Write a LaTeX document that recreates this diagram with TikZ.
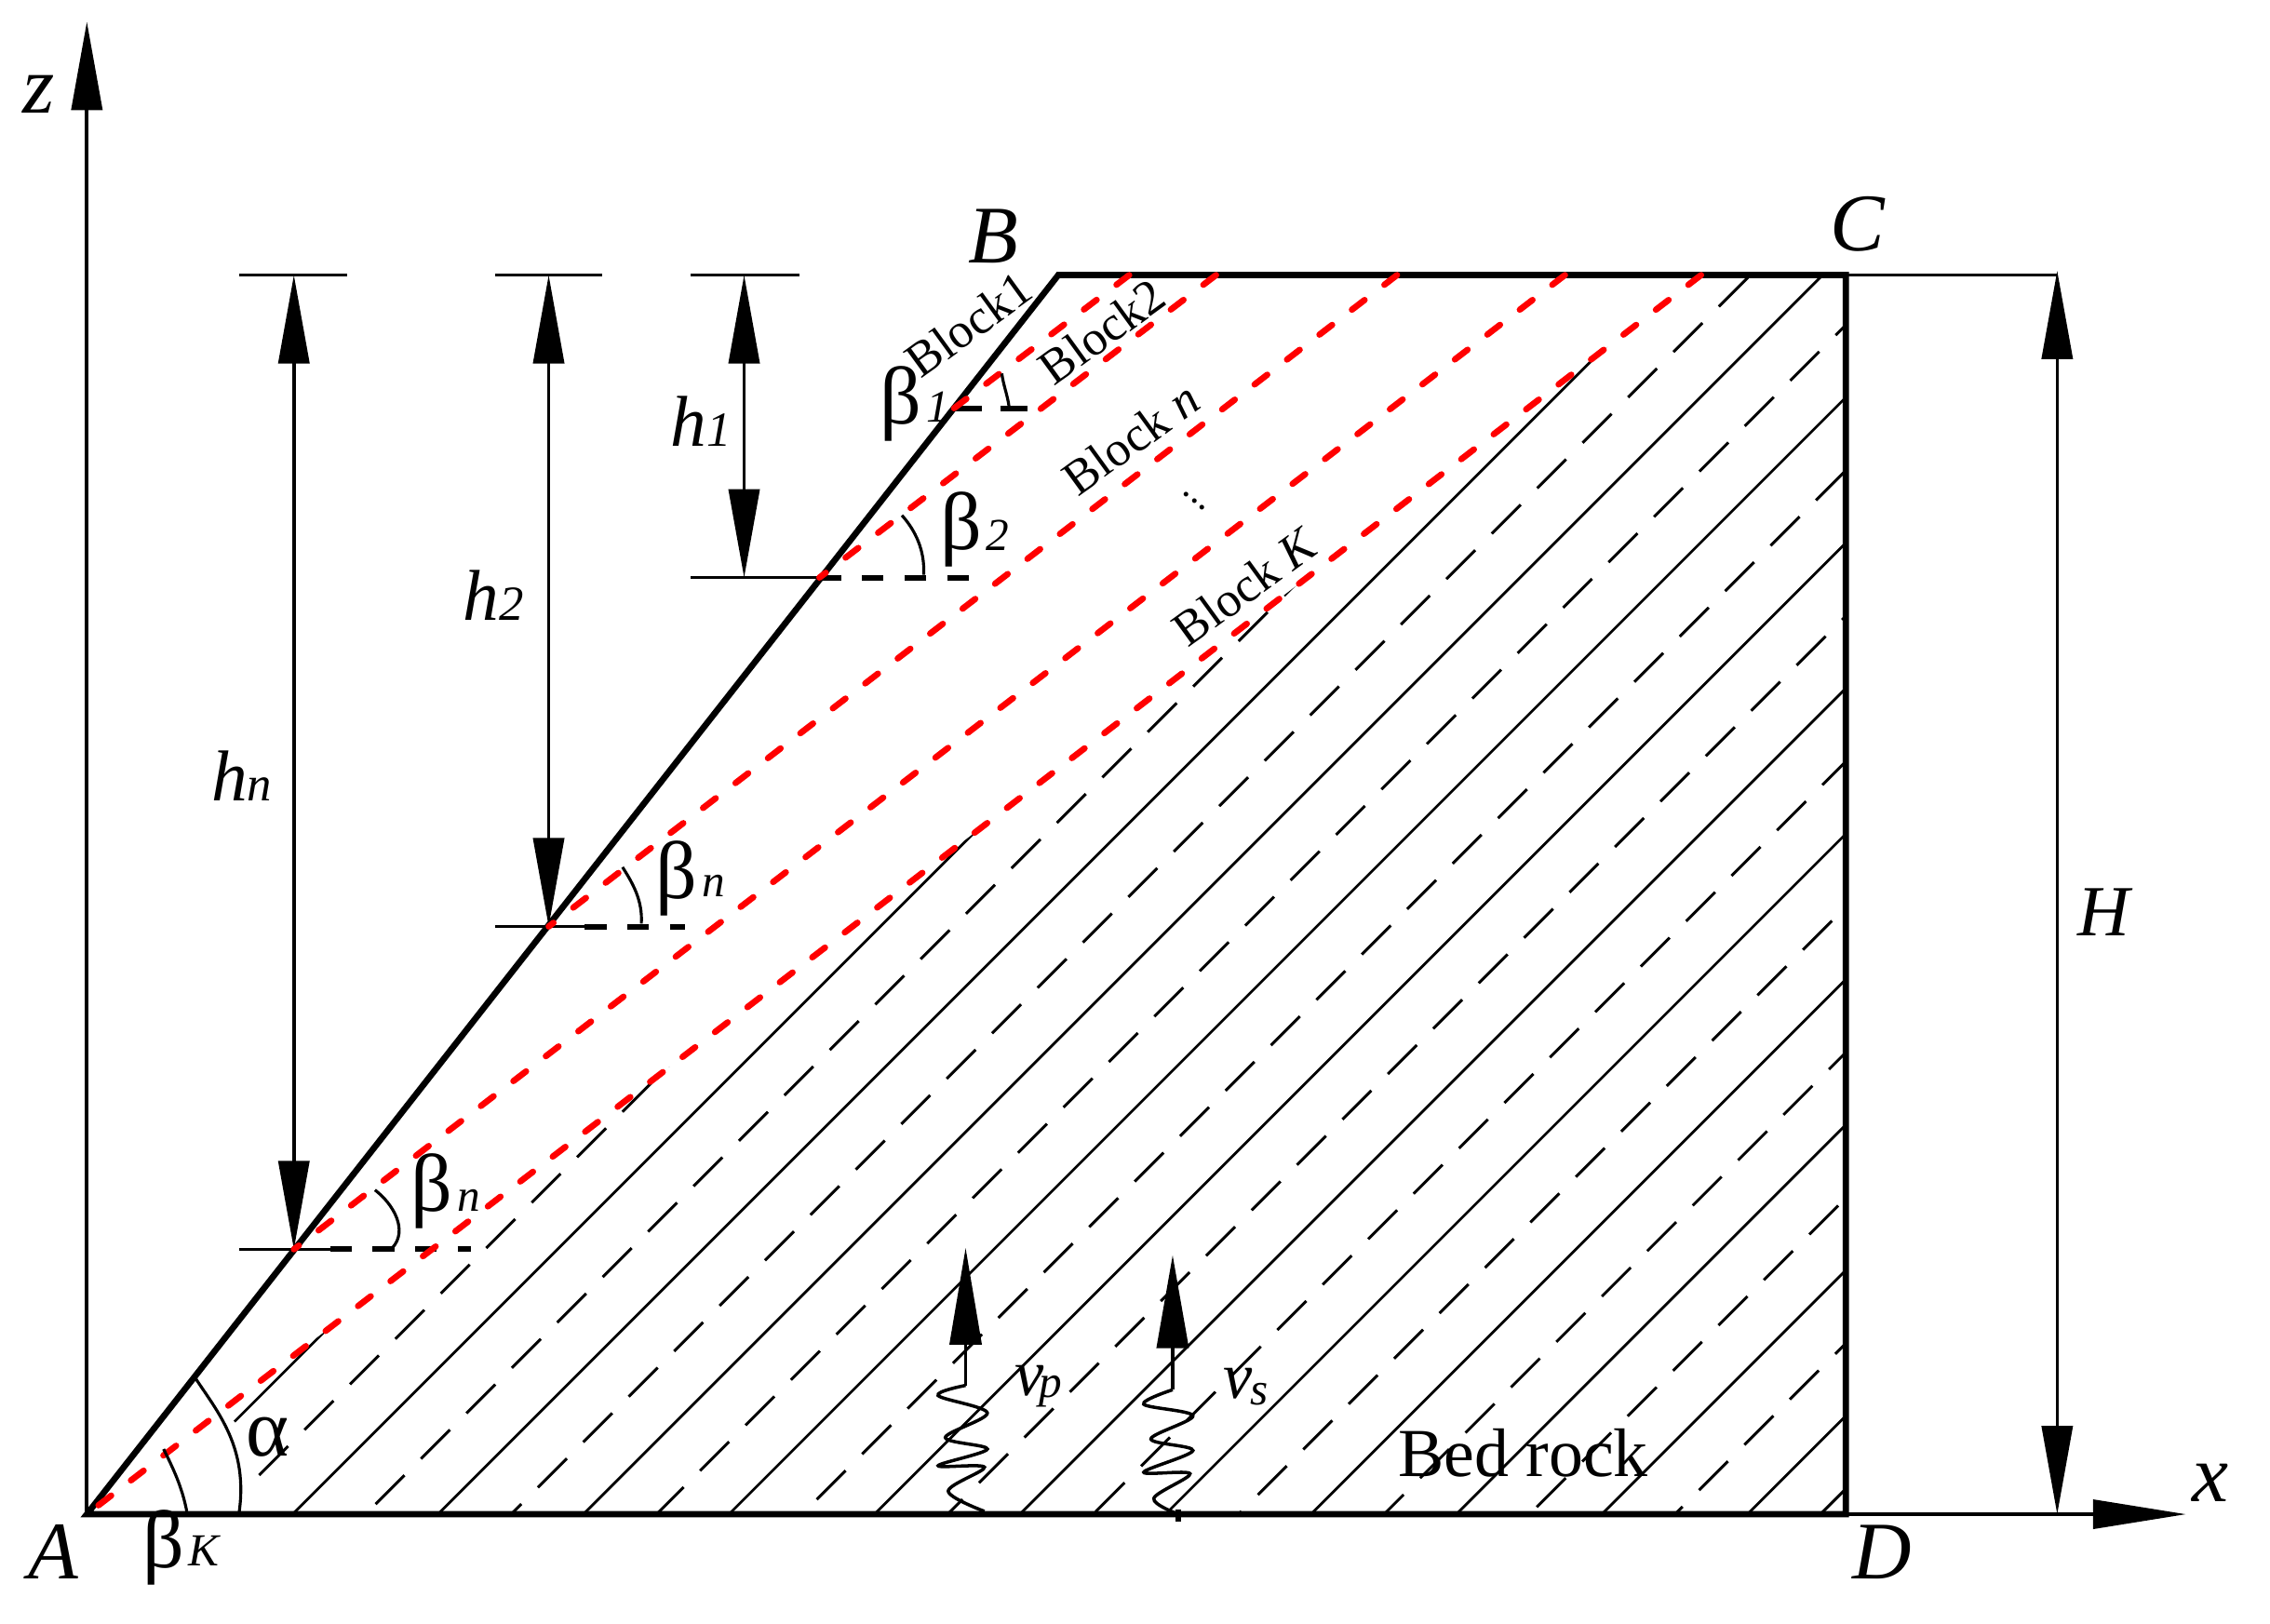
\documentclass[tikz,border=0pt]{standalone}
\usepackage{fontspec}
\setmainfont{Liberation Serif}
\usetikzlibrary{arrows.meta}
\newcommand{\fsz}[1]{\fontsize{#1pt}{#1pt}\selectfont}
\tikzset{
  thickline/.style={line width=1.9pt,line cap=round,line join=miter},
  thinline/.style={line width=1.05pt},
  hatchsolid/.style={line width=0.8pt},
  hatchdash/.style={line width=0.85pt,dash pattern=on 12.5pt off 7.13pt},
  redline/.style={red,line width=1.9pt,line cap=round,dash pattern=on 4.9pt off 7.6pt},
  baseline dash/.style={line width=1.7pt,dash pattern=on 6.6pt off 6.4pt},
  shortdash/.style={line width=1.7pt,dash pattern=on 8.4pt off 5.7pt},
  anglearc/.style={line width=0.9pt},
  wave/.style={line width=1pt},
  bigarrow/.style={-{Triangle[length=0.9cm,width=0.34cm]}},
  midarrow/.style={-{Triangle[length=0.95cm,width=0.33cm]}},
  lab/.style={inner sep=0pt,font=\fsz{25}\itshape},
  greek/.style={inner sep=0pt,font=\fsz{25}},
  subs/.style={inner sep=0pt,font=\fsz{14}\itshape},
  blocklab/.style={inner sep=0pt,font=\fsz{15},rotate=36},
}
\begin{document}
\begin{tikzpicture}[x=0.015555cm,y=-0.015555cm]
\useasboundingbox (0,0) rectangle (1568,1121.8);
\fill[white] (0,0) rectangle (1568,1121.8);
% key points
\coordinate (A) at (60,1046);
\coordinate (B) at (731,190);
\coordinate (C) at (1275,190);
\coordinate (D) at (1275,1046);
\coordinate (P1) at (659,282);
\coordinate (P2) at (566,399);
\coordinate (P3) at (379,640);
\coordinate (P4) at (203,863);
\coordinate (T1) at (780,190);
\coordinate (T2) at (840,190);
\coordinate (T3) at (965,190);
\coordinate (T4) at (1081,190);
\coordinate (T5) at (1175,190);
% hatching
\begin{scope}
\clip (A) -- (T5) -- (C) -- (D) -- cycle;
\foreach \i in {0,...,10}{
  \pgfmathsetmacro{\ix}{202+100.5*\i}
  \draw[hatchsolid] (\ix,1046) -- ++(900,-900);
}
\draw[hatchsolid] (162,982) -- ++(900,-900);
\draw[hatchdash] (179,1019) -- ++(900,-900);
\foreach \k in {1,...,11}{
  \pgfmathsetmacro{\ix}{152+100.5*\k}
  \pgfmathsetmacro{\rr}{(42-31*\k-49*(1+floor((42-31*\k)/49)))/1.5555}
  \draw[hatchdash] (\ix+\rr,1046-\rr) -- ++(900,-900);
}
\end{scope}
% axes
\draw[thinline,midarrow] (A) -- (60,15);
\draw[thinline,-{Triangle[length=1cm,width=0.31cm]}] (A) -- (1510,1046);
% dimension ticks
\foreach \a/\b/\n in {165/240/t1,342/416/t2,477/552/t3}{
  \draw[thinline] (\a,190) -- (\b,190);
}
\draw[thinline] (C) -- (1421,190);
\draw[thinline] (477,399) -- (P2);
\draw[thinline] (342,640) -- (404,640);
\draw[thinline] (165,863) -- (228,863);
% dimension arrows
\draw[thinline,midarrow] (514,300) -- (514,190);
\draw[thinline,midarrow] (514,300) -- (514,399);
\draw[thinline,midarrow] (379,300) -- (379,190);
\draw[thinline,midarrow] (379,300) -- (P3);
\draw[thinline,midarrow] (203,400) -- (203,190);
\draw[thinline,midarrow] (203,400) -- (P4);
\draw[thinline,midarrow] (1421,600) -- (1421,187);
\draw[thinline,midarrow] (1421,600) -- (1421,1046);
% dashed horizontals
\draw[shortdash] (P1) -- (715,282);
\draw[baseline dash] (P2) -- (677,399);
\draw[baseline dash] (404,640) -- (473,640);
\draw[baseline dash] (228,863) -- (325,863);
% outline
\draw[thickline] (A) -- (B) -- (C) -- (D) -- (A) -- cycle;
% red slip lines
\draw[redline] (T1) -- (P1);
\draw[redline] (T2) -- (P2);
\draw[redline] (T3) -- (P3);
\draw[redline] (T4) -- (P4);
\draw[redline] (T5) -- (A);
% angle arcs
\draw[anglearc] (135,952) .. controls (150,975) and (172,1000) .. (165,1046);
\draw[anglearc] (113,1001) .. controls (120,1015) and (126,1028) .. (129,1044);
\draw[anglearc] (259,822) .. controls (272,832) and (282,850) .. (271,862);
\draw[anglearc] (430,599) .. controls (437,610) and (444,622) .. (443,638);
\draw[anglearc] (623,356) .. controls (632,366) and (639,380) .. (638,397);
\draw[anglearc] (692,258) .. controls (693,266) and (696,273) .. (697,281);
% seismic waves
\draw[wave] plot[smooth,tension=0.55] coordinates {(667,957) (648,964) (682,976) (653,993) (682,1001) (648,1012.5) (680,1013.5) (655,1030) (680,1044)};
\draw[wave] plot[smooth,tension=0.55] coordinates {(810,960) (790,970) (824,978) (795,994) (824,1002) (790,1017) (822,1018) (797,1035) (814,1046)};
\draw[line width=1.8pt] (814,1043) -- (814,1051);
\draw[thinline,-{Triangle[length=1.04cm,width=0.34cm]}] (667,957) -- (667,862);
\draw[thinline,-{Triangle[length=1cm,width=0.34cm]}] (810,960) -- (810,867);
% labels
\node[lab] (lz) at (27,65) {z};
\node[lab] (lA) at (37,1072) {A};
\node[lab] (lB) at (686,163) {B};
\node[lab] (lC) at (1283,155) {C};
\node[lab] (lD) at (1300,1072) {D};
\node[lab] (lx) at (1527,1024) {x};
\node[inner sep=0pt,font=\fsz{22}\itshape] (lH) at (1453,630) {H};
\node[inner sep=0pt] (h1) at (484,291) {\fsz{22}\itshape h\fsz{15}1};
\node[inner sep=0pt] (h2) at (341,411) {\fsz{22}\itshape h\fsz{15}2};
\node[inner sep=0pt] (hn) at (167,536) {\fsz{22}\itshape h\fsz{15}n};
\node[greek] (b1) at (622,279) {β};
\node[subs] (b1s) at (648,281) {1};
\node[greek] (b2) at (664,366) {β};
\node[subs] (b2s) at (689,370) {2};
\node[greek] (b3) at (467,607) {β};
\node[subs] (b3s) at (493,612) {n};
\node[greek] (b4) at (298,823) {β};
\node[subs] (b4s) at (324,829) {n};
\node[greek] (b5) at (113,1069) {β};
\node[subs] (b5s) at (141,1071) {K};
\node[greek] (al) at (185,993) {α};
\node[blocklab] (bk1) at (669,224) {Block1};
\node[blocklab] (bk2) at (761,229) {Block2};
\node[blocklab] (bkn) at (781,303) {Block \textit{n}};
\node[blocklab] (bkk) at (860,405) {Block \textit{K}};
\node[inner sep=0pt,font=\fsz{12},rotate=-40] (dots) at (825,346) {...};
\node[inner sep=0pt,font=\fsz{20}\itshape] (vp) at (711,954) {v};
\node[subs] (vps) at (726,961) {p};
\node[inner sep=0pt,font=\fsz{20}\itshape] (vs) at (855,956) {v};
\node[subs] (vss) at (870,963) {s};
\node[inner sep=0pt,font=\fsz{21}] (bed) at (1052,1004) {Bed rock};
\end{tikzpicture}
\end{document}
